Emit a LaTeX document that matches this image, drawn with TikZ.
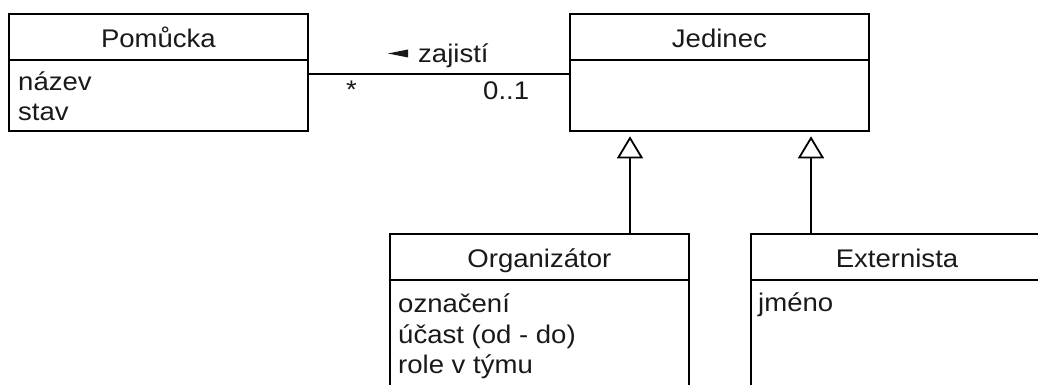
\documentclass[tikz,border=0pt]{standalone}
\usepackage{fontspec}
\setmainfont{Liberation Sans}[FakeStretch=1.08]
\usetikzlibrary{arrows.meta}
\tikzset{
  umlbox/.style={draw, line width=1.8pt, inner sep=0pt, anchor=north west,
    minimum width=299pt},
  umltext/.style={inner sep=0pt, font=\fontsize{25.5}{30.5}\selectfont, text=black!90},
  title/.style={umltext, anchor=base},
  attr/.style={umltext, anchor=base west},
  assoc/.style={line width=1.8pt},
  gen/.style={line width=1.8pt, -{Triangle[open, length=22pt, width=26pt, fill=white]},
    shorten >=4pt},
}
\begin{document}
\begin{tikzpicture}[x=1pt,y=-1pt]
  \useasboundingbox (0,0) rectangle (1038,385);
  \clip (0,0) rectangle (1038,385);

  % classes
  \node[umlbox, minimum height=117.5pt] (pom) at (8,13) {};
  \node[umlbox, minimum height=117.5pt] (jed) at (569,13) {};
  \node[umlbox, minimum height=190pt] (org) at (389,233) {};
  \node[umlbox, minimum height=190pt, minimum width=310pt] (ext) at (750,233) {};

  % name compartments
  \foreach \c in {pom,jed,org,ext}{
    \draw[line width=1.8pt] ([yshift=-47pt]\c.north west) -- ([yshift=-47pt]\c.north east);
  }

  % class names
  \node[title] (pomname) at ([yshift=-34.5pt]pom.north) {Pomůcka};
  \node[title] (jedname) at ([yshift=-34.5pt]jed.north) {Jedinec};
  \node[title] (orgname) at ([yshift=-34.5pt]org.north) {Organizátor};
  \node[title] (extname) at (897,267.5) {Externista};

  % attributes
  \node[attr] (pom1) at ([shift={(10pt,-78pt)}]pom.north west) {název};
  \node[attr] (pom2) at ([shift={(10pt,-108pt)}]pom.north west) {stav};
  \node[attr] (org1) at ([shift={(9pt,-79pt)}]org.north west) {označení};
  \node[attr] (org2) at ([shift={(9pt,-110pt)}]org.north west) {účast (od - do)};
  \node[attr] (org3) at ([shift={(9pt,-140pt)}]org.north west) {role v týmu};
  \node[attr] (ext1) at ([shift={(8pt,-78pt)}]ext.north west) {jméno};

  % association Pomůcka -- Jedinec
  \draw[assoc] ([yshift=-1pt]pom.east) -- ([yshift=-1pt]jed.west);
  \node[attr] (zaj) at (418,63) {zajistí};
  \fill[black!90] ([shift={(-10pt,13.5pt)}]zaj.base west) -- ([shift={(-10pt,5.5pt)}]zaj.base west)
    -- ([shift={(-30pt,9.5pt)}]zaj.base west) -- cycle;
  \node[attr] (many) at (346,99) {*};
  \node[attr] (opt) at (483,100) {0..1};

  % generalisations
  \coordinate (g1) at (630,0);
  \coordinate (g2) at (811,0);
  \draw[gen] (org.north -| g1) -- (jed.south -| g1);
  \draw[gen] (ext.north -| g2) -- (jed.south -| g2);
\end{tikzpicture}
\end{document}
